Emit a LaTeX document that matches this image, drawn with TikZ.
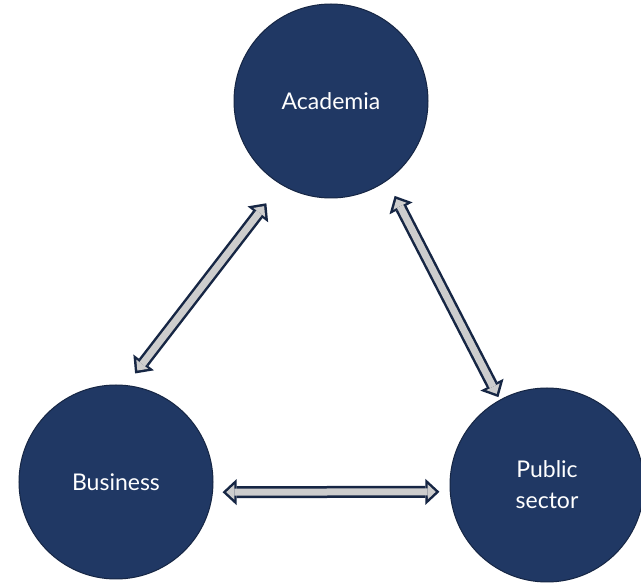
\documentclass[tikz,border=0pt]{standalone}
\usepackage{fontspec}
\setmainfont{Lato}
\usetikzlibrary{arrows.meta, positioning}
\definecolor{circblue}{RGB}{32, 56, 100}
\definecolor{edgeblue}{RGB}{22, 38, 68}
\definecolor{arrgray}{RGB}{205, 205, 205}

\begin{document}
\begin{tikzpicture}[x=1pt, y=-1pt,
  sector/.style={circle, draw=edgeblue, line width=1pt, fill=circblue, minimum size=194pt,
                 inner sep=0pt, text=white, align=center, font=\fontsize{23}{31}\selectfont},
  flowout/.style={line width=12pt, draw=edgeblue,
                  {Triangle[length=14pt, width=26pt, line width=0pt]}-{Triangle[length=14pt, width=26pt, line width=0pt]}},
  flowin/.style={line width=7pt, draw=arrgray,
                 {Triangle[length=8pt, width=15pt, line width=0pt]}-{Triangle[length=8pt, width=15pt, line width=0pt]}},
]
\path[use as bounding box, fill=white] (0, 0) rectangle (641, 585);

% Sectors
\node[sector] (aca) at (331, 101) {Academia};
\node[sector] (bus) at (116, 482) {Business};
\node[sector] (pub) at (547, 485) {Public\\sector};

% Business <-> Academia
\draw[flowout, shorten <=14.6pt, shorten >=23.6pt] (bus.84) -- (aca.239.3);
\draw[flowin, shorten <=18.3pt, shorten >=27.3pt] (bus.84) -- (aca.239.3);

% Academia <-> Public sector
\draw[flowout, shorten <=16.9pt, shorten >=2.9pt] (aca.305.6) -- (pub.119.4);
\draw[flowin, shorten <=20.6pt, shorten >=6.6pt] (aca.305.6) -- (pub.119.4);

% Business <-> Public sector
\draw[flowout, shorten <=9.6pt, shorten >=10.3pt] (bus.-6.5) -- (pub.184.1);
\draw[flowin, shorten <=13.3pt, shorten >=14pt] (bus.-6.5) -- (pub.184.1);
\end{tikzpicture}
\end{document}
